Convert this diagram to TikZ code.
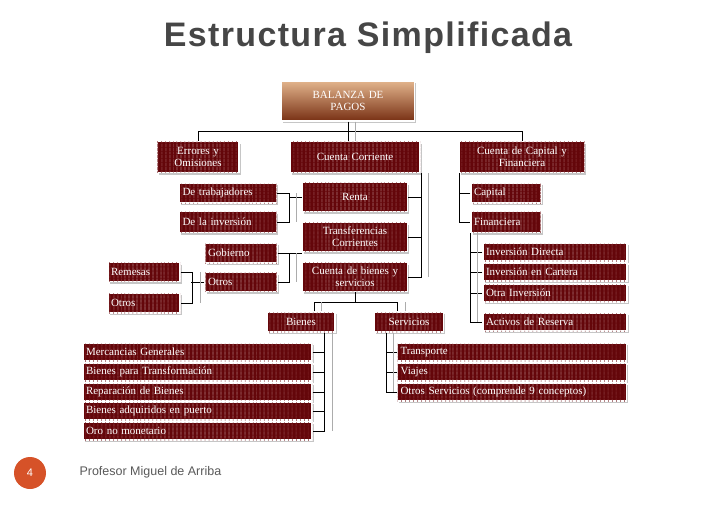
\documentclass[tikz,border=0pt]{standalone}
\usepackage{fontspec}
\setmainfont{Liberation Serif}
\setsansfont{Liberation Sans}
\usetikzlibrary{shadows,patterns.meta}
\definecolor{vino}{RGB}{100,6,10}
\definecolor{vinoraya}{RGB}{116,22,26}
\definecolor{cafeclaro}{RGB}{226,180,140}
\definecolor{cafeosc}{RGB}{120,48,20}
\definecolor{naranja}{RGB}{214,82,40}
\tikzset{
  caja/.style={draw=white,line width=1.2pt,fill=vino,text=white,font=\fontsize{11}{12}\selectfont,
    drop shadow={shadow xshift=1.5pt,shadow yshift=-2pt,opacity=.45},
    postaction={pattern={Lines[angle=90,distance=4pt,line width=.7pt]},pattern color=vinoraya},
    inner sep=2pt,align=center},
  izq/.style={align=left,inner xsep=3pt},
  ln/.style={draw=black,line width=.8pt},
  eco/.style={draw=gray!65,line width=.8pt}
}
\newcommand{\caja}[6][]{\node[caja,#1,text width=#4-6pt,minimum height=#5] (#2) at (#3) {#6};}
\begin{document}
\begin{tikzpicture}[x=1pt,y=-1pt]
  \useasboundingbox (0,0) rectangle (728,504);

  %% titulo
  \node[font=\sffamily\bfseries\fontsize{34}{36}\selectfont\addfontfeature{LetterSpace=4},text=gray!55!black,
    drop shadow={shadow xshift=1.5pt,shadow yshift=-1.5pt,opacity=.0}] (titulo) at (368,38) {Estructura Simplificada};

  %% raiz
  \node[draw=white,line width=1.2pt,top color=cafeclaro,bottom color=cafeosc,text=white,
    drop shadow={shadow xshift=1.5pt,shadow yshift=-2pt,opacity=.45},
    text width=127pt,minimum height=40pt,align=center,font=\fontsize{11}{12.5}\selectfont] (bal) at (348,101) {BALANZA DE\\PAGOS};

  %% primer nivel
  \caja{err}{198,157}{84pt}{31pt}{Errores y\\Omisiones}
  \caja{cc}{355,157}{132pt}{31pt}{Cuenta Corriente\\[9pt]}
  \caja{ccf}{522,157}{127pt}{31pt}{Cuenta de Capital y\\Financiera}

  %% cuenta corriente
  \caja{renta}{355,197}{107pt}{29pt}{Renta}
  \caja{transf}{355,237}{107pt}{29pt}{Transferencias\\Corrientes}
  \caja{cbs}{355,277}{107pt}{29pt}{Cuenta de bienes y\\servicios}
  \caja[izq]{trab}{228,193}{97pt}{20pt}{De trabajadores}
  \caja[izq]{inv}{228,222}{97pt}{21pt}{De la inversión}
  \caja[izq]{gob}{241,253}{72pt}{20pt}{Gobierno}
  \caja[izq]{otm}{241,282}{72pt}{19pt}{Otros}
  \caja[izq]{rem}{144,272}{72pt}{19pt}{Remesas}
  \caja[izq]{otl}{144,303}{72pt}{20pt}{Otros}

  %% capital y financiera
  \caja[izq]{cap}{506,193}{70pt}{20pt}{Capital}
  \caja[izq]{fin}{506,222}{70pt}{21pt}{Financiera}
  \caja[izq]{id}{555,252}{144pt}{18pt}{Inversión Directa}
  \caja[izq]{ic}{555,272}{144pt}{18pt}{Inversión en Cartera}
  \caja[izq]{oi}{555,293}{144pt}{18pt}{Otra Inversión}
  \caja[izq]{ar}{555,322}{144pt}{18pt}{Activos de Reserva}

  %% bienes y servicios
  \caja{bie}{301,322}{70pt}{20pt}{Bienes}
  \caja{ser}{409,322}{71pt}{20pt}{Servicios}
  \caja[izq]{b1}{197.5,352}{229pt}{18pt}{Mercancias Generales}
  \caja[izq]{b2}{197.5,372}{229pt}{18pt}{Bienes para Transformación}
  \caja[izq]{b3}{197.5,392}{229pt}{18pt}{Reparación de Bienes}
  \caja[izq]{b4}{197.5,411}{229pt}{18pt}{Bienes adquiridos en puerto}
  \caja[izq]{b5}{197.5,431}{229pt}{18pt}{Oro no monetario}
  \caja[izq]{s1}{512,352}{229pt}{18pt}{Transporte}
  \caja[izq]{s2}{512,372}{229pt}{18pt}{Viajes}
  \caja[izq]{s3}{512,392}{229pt}{18pt}{Otros Servicios (comprende 9 conceptos)}

  %% conectores
  \draw[ln] (bal.south) -- ++(0,10) coordinate (tj);
  \draw[ln] (err.north) |- (tj) -| (ccf.north);
  \draw[ln] (tj) -- (tj |- cc.north);

  \draw[ln] ([xshift=1pt]cc.south east) |- (cbs.east);
  \draw[ln] (renta.east) -- ++(13,0);
  \draw[ln] (transf.east) -- ++(13,0);

  \draw[ln] (trab.east) -- ++(12,0) |- (inv.east);
  \draw[ln] (renta.west) -- ++(-13,0);
  \draw[ln] (gob.east) -- ++(12,0) |- (otm.east);
  \draw[ln] (gob.east) -- (gob.east -| transf.west);
  \draw[ln] (rem.east) -- ++(12,0) |- (otl.east);
  \draw[ln] (otm.west) -- ++(-13,0);

  \draw[ln] (ccf.south west) |- (fin.west);
  \draw[ln] (cap.west) -- (cap.west -| ccf.west);
  \draw[ln] (fin.south west) |- (ar.west);
  \foreach \n in {id,ic,oi}
    \draw[ln] (\n.west) -- (\n.west -| fin.west);

  \draw[ln] (cbs.south) -- ++(0,10) coordinate (bj);
  \draw[ln] ([xshift=13pt]bie.north) |- (bj) -| ([xshift=-12pt]ser.north);
  \draw[ln] ([xshift=23pt]bie.south) |- (b5.east);
  \foreach \n in {b1,b2,b3,b4}
    \draw[ln] (\n.east) -- ++(12,0);
  \draw[ln] ([xshift=-23pt]ser.south) |- (s3.west);
  \foreach \n in {s1,s2}
    \draw[ln] (\n.west) -- ++(-11,0);

  %% ecos grises
  \draw[eco] ([xshift=7pt]bal.south) -- ([xshift=7pt]bal.south |- cc.north);
  \draw[eco] ([xshift=8pt]cc.south east) -- ([xshift=8pt]cc.south east |- cbs.east);
  \draw[eco] ([xshift=19pt]trab.east) -- ([xshift=19pt]inv.east);
  \draw[eco] ([xshift=19pt]gob.east) -- ([xshift=19pt]otm.east);
  \draw[eco] ([xshift=20pt]rem.east) -- ([xshift=20pt]otl.east);
  \draw[eco] ([xshift=7pt]fin.south west) -- ([xshift=7pt]fin.south west |- ar.west);
  \draw[eco] ([xshift=20pt]bie.north) -- ++(0,-9);
  \draw[eco] ([xshift=-4pt]ser.north) -- ++(0,-9);
  \draw[eco] ([xshift=31pt]bie.south) -- ([xshift=31pt]bie.south |- b5.east);
  \draw[eco] ([xshift=-16pt]ser.south) -- ([xshift=-16pt]ser.south |- s3.west);

  %% pie
  \node[circle,fill=naranja,minimum size=32pt,inner sep=0pt,text=white,font=\sffamily\fontsize{11}{11}\selectfont] (num) at (30,473) {4};
  \node[anchor=west,text=gray!70!black,font=\sffamily\fontsize{12.5}{13}\selectfont] (autor) at (76,472) {Profesor Miguel de Arriba};
\end{tikzpicture}
\end{document}
